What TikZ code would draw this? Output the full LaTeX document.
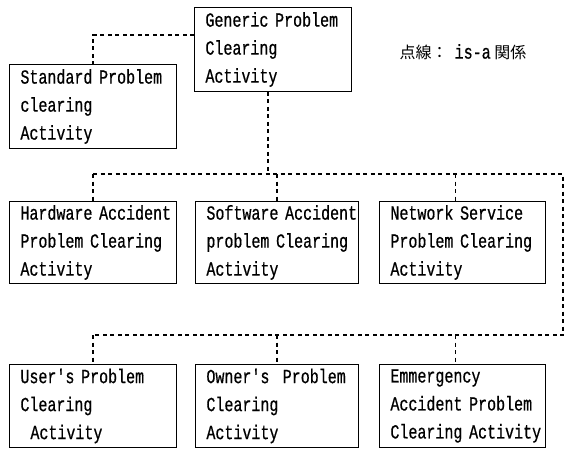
\documentclass[tikz,border=0pt]{standalone}
\usepackage{fontspec}
\newfontfamily\actfont[FakeStretch=0.75,FakeBold=0.6,WordSpace={1,0,0},Ligatures=TeXOff]{Liberation Mono}
\newfontfamily\cjk{Noto Sans CJK JP}
\hyphenpenalty=10000
\exhyphenpenalty=10000

\begin{document}
\begin{tikzpicture}[x=1pt,y=-1pt,activity/.style={draw,line width=0.9pt,anchor=north west,align=left,text width=#1,inner xsep=11pt,inner ysep=0pt,minimum height=84pt,font=\actfont\fontsize{20}{28}\selectfont},isa/.style={line width=1.1pt,dash pattern=on 4pt off 3.5pt}]
\useasboundingbox (0,0) rectangle (566,448);
\node[activity=135pt] (gen) at (194,7) {Generic~Problem\\Clearing\\Activity};
\node[activity=145pt] (std) at (9,64) {Standard~Problem\\clearing\\Activity};
\node[anchor=west,font=\cjk\fontsize{16}{16}\selectfont] (legend) at (396,52) {点線：\ \ {\actfont\fontsize{20}{20}\selectfont is-a}\ 関係};
\node[activity=145pt,minimum height=82pt] (hw) at (9,201) {Hardware~Accident\\Problem~Clearing\\Activity};
\node[activity=141pt,minimum height=82pt] (sw) at (195,201) {Software~Accident\\problem~Clearing\\Activity};
\node[activity=144pt,minimum height=82pt] (net) at (379,201) {Network~Service\\Problem~Clearing\\Activity};
\node[activity=145pt,minimum height=83pt] (user) at (9,364) {User's~Problem\\Clearing\\\hspace*{.5em}Activity};
\node[activity=141pt,minimum height=83pt] (owner) at (195,364) {Owner's~~Problem\\Clearing\\Activity};
\node[activity=144pt,minimum height=83pt] (emg) at (379,364) {Emmergency\\Accident~Problem\\Clearing~Activity};
\coordinate (genlink) at (194,35);
\coordinate (bus1) at (268,174);
\coordinate (bus1l) at (93,174);
\coordinate (bus1r) at (563,174);
\coordinate (bus2l) at (93,335);
\coordinate (bus2r) at (563,335);
\draw[isa] (genlink) -| (std.north);
\draw[isa] (bus1 |- gen.south) -- (bus1);
\draw[isa] (bus1l) -- (bus1r) -- (bus2r) -- (bus2l);
\draw[isa] (hw.north |- bus1) -- (hw.north);
\draw[isa] (sw.north |- bus1) -- (sw.north);
\draw[isa] ([xshift=-7pt]net.north |- bus1) -- ([xshift=-7pt]net.north);
\draw[isa] (user.north |- bus2l) -- (user.north);
\draw[isa] (owner.north |- bus2l) -- (owner.north);
\draw[isa] ([xshift=-7pt]emg.north |- bus2l) -- ([xshift=-7pt]emg.north);
\end{tikzpicture}
\end{document}
